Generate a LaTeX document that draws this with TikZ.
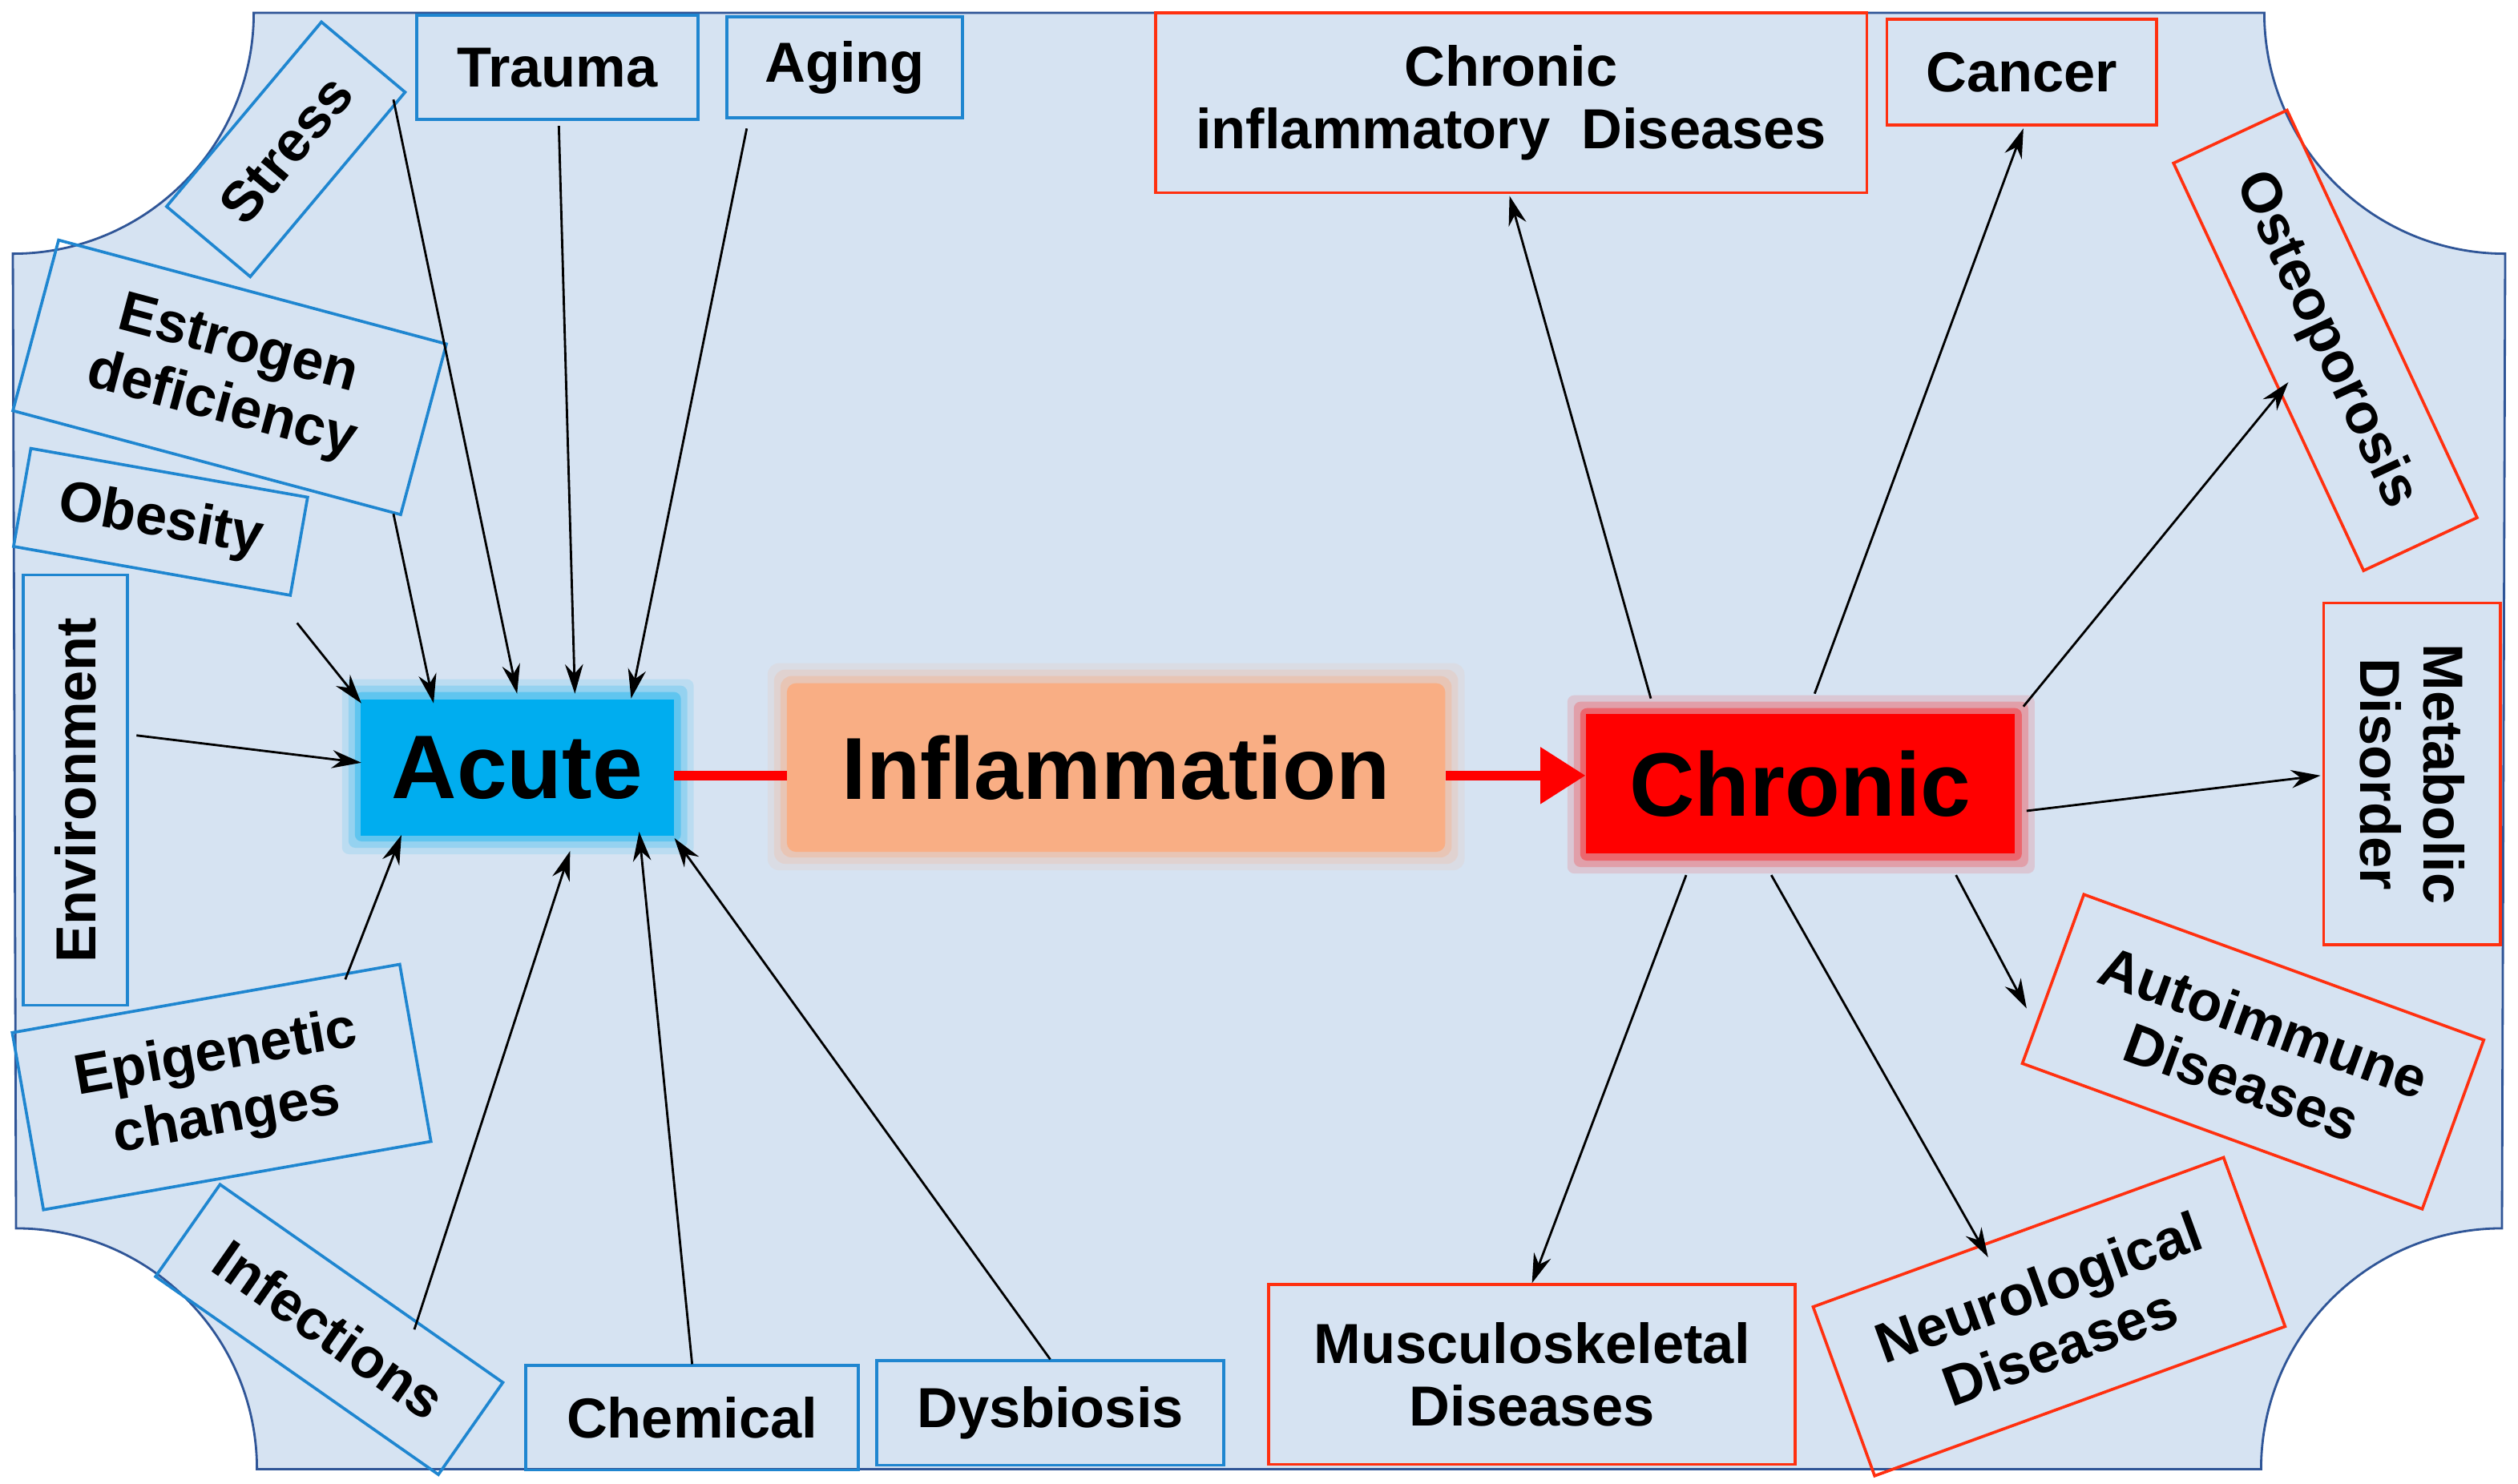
\documentclass[tikz,border=0pt]{standalone}
\usepackage{fontspec}
\setmainfont{Liberation Sans}
\usetikzlibrary{arrows.meta}
\definecolor{bg}{HTML}{D6E3F2}
\definecolor{bgline}{HTML}{2F5597}
\definecolor{cb}{HTML}{1F86D0}
\definecolor{cr}{HTML}{FF3010}
\definecolor{acute}{HTML}{00ADEF}
\definecolor{infl}{HTML}{F9AE84}
\tikzset{
 lab/.style={font=\fontsize{50}{56}\selectfont\bfseries, align=center, line width=2.6pt, inner sep=0pt},
 cause/.style={lab, draw=cb},
 eff/.style={lab, draw=cr},
 ar/.style={line width=2pt, -{Stealth[length=26pt,width=16pt]}},
}
\begin{document}
\begin{tikzpicture}[x=0.05cm,y=-0.05cm]
\useasboundingbox (0,0) rectangle (1568,924);
\draw[fill=bg, draw=bgline, line width=2pt]
 (160,8) -- (1410,8) arc[start angle=180,end angle=90,radius=150] -- (1558,765)
 arc[start angle=270,end angle=180,radius=150] -- (160,915)
 arc[start angle=0,end angle=-90,radius=150] -- (8,158)
 arc[start angle=90,end angle=0,radius=150] -- cycle;
% glows
\foreach \w/\o in {24/0.12,16/0.2,8/0.35}{
 \fill[acute,opacity=\o,rounded corners=6pt] (225-\w/2,435-\w/2) rectangle (420+\w/2,520+\w/2);
 \fill[infl,opacity=\o,rounded corners=10pt] (490-\w/2,425-\w/2) rectangle (900+\w/2,530+\w/2);
 \fill[red,opacity=\o,rounded corners=6pt] (988-\w/2,445-\w/2) rectangle (1255+\w/2,532+\w/2);
}
\node[fill=acute, minimum width=195*0.05cm, minimum height=85*0.05cm, font=\fontsize{80}{90}\selectfont\bfseries] (acute) at (322,478) {Acute};
\node[fill=infl, rounded corners=8pt, minimum width=410*0.05cm, minimum height=105*0.05cm, font=\fontsize{78}{90}\selectfont\bfseries] (infl) at (695,478) {Inflammation};
\node[fill=red, minimum width=267*0.05cm, minimum height=87*0.05cm, font=\fontsize{80}{90}\selectfont\bfseries] (chronic) at (1121,488) {Chronic};
\draw[red, line width=9pt] (acute.east |- 0,483) -- (infl.west |- 0,483);
\draw[red, line width=9pt, -{Triangle[length=40pt,width=48pt]}] (infl.east |- 0,483) -- (chronic.west |- 0,483);
% causes
\node[cause, rotate=50, minimum width=150*0.05cm, minimum height=68*0.05cm] (stress) at (178,93) {Stress};
\node[cause, minimum width=175*0.05cm, minimum height=65*0.05cm] (trauma) at (347,42) {Trauma};
\node[cause, minimum width=147*0.05cm, minimum height=63*0.05cm] (aging) at (526,42) {Aging};
\node[cause, rotate=-15, minimum width=250*0.05cm, minimum height=110*0.05cm] (estro) at (143,235) {Estrogen\\deficiency};
\node[cause, rotate=-10, minimum width=175*0.05cm, minimum height=62*0.05cm] (obes) at (100,325) {Obesity};
\node[cause, rotate=90, minimum width=268*0.05cm, minimum height=65*0.05cm] (env) at (47,492) {Environment};
\node[cause, rotate=10, minimum width=245*0.05cm, minimum height=112*0.05cm] (epi) at (138,677) {Epigenetic\\changes};
\node[cause, rotate=-35, minimum width=215*0.05cm, minimum height=70*0.05cm] (inf) at (205,828) {Infections};
\node[cause, minimum width=207*0.05cm, minimum height=65*0.05cm] (chem) at (431,883) {Chemical};
\node[cause, minimum width=216*0.05cm, minimum height=65*0.05cm] (dys) at (654,880) {Dysbiosis};
\coordinate (a1) at (322,432); \coordinate (a2) at (358,432); \coordinate (a3) at (393,435);
\coordinate (a4) at (270,438); \coordinate (a5) at (225,438); \coordinate (a6) at (225,475);
\coordinate (a7) at (250,520); \coordinate (a8) at (355,530); \coordinate (a9) at (398,518); \coordinate (a10) at (420,522);
\draw[ar] (245,62) -- (a1);
\draw[ar] (trauma.south) ++(1,3) -- (a2);
\draw[ar] (465,80) -- (a3);
\draw[ar] (245,320) -- (a4);
\draw[ar] (185,388) -- (a5);
\draw[ar] (85,458) -- (a6);
\draw[ar] (215,610) -- (a7);
\draw[ar] (258,828) -- (a8);
\draw[ar] (chem.north) -- (a9);
\draw[ar] (dys.north) -- (a10);
% effects
\node[eff, minimum width=443*0.05cm, minimum height=112*0.05cm] (cid) at (941,64) {Chronic\\inflammatory~ Diseases};
\node[eff, minimum width=168*0.05cm, minimum height=66*0.05cm] (cancer) at (1259,45) {Cancer};
\node[eff, rotate=-65, minimum width=280*0.05cm, minimum height=78*0.05cm] (osteo) at (1448,212) {Osteoporosis};
\node[eff, rotate=-90, minimum width=213*0.05cm, minimum height=110*0.05cm] (meta) at (1502,482) {Metabolic\\Disorder};
\node[eff, rotate=-20, minimum width=265*0.05cm, minimum height=112*0.05cm] (auto) at (1403,655) {Autoimmune\\Diseases};
\node[eff, rotate=20, minimum width=272*0.05cm, minimum height=112*0.05cm] (neuro) at (1276,820) {Neurological\\Diseases};
\node[eff, minimum width=328*0.05cm, minimum height=112*0.05cm] (musc) at (954,856) {Musculoskeletal\\Diseases};
\coordinate (c1) at (1028,435); \coordinate (c2) at (1130,432); \coordinate (c3) at (1260,440);
\coordinate (c4) at (1262,505); \coordinate (c5) at (1218,545); \coordinate (c6) at (1103,545); \coordinate (c7) at (1050,545);
\draw[ar] (c1) -- (940,122);
\draw[ar] (c2) -- (1260,80);
\draw[ar] (c3) -- (1425,238);
\draw[ar] (c4) -- (1445,483);
\draw[ar] (c5) -- (1262,628);
\draw[ar] (c6) -- (1238,783);
\draw[ar] (c7) -- (musc.north);
\end{tikzpicture}
\end{document}
